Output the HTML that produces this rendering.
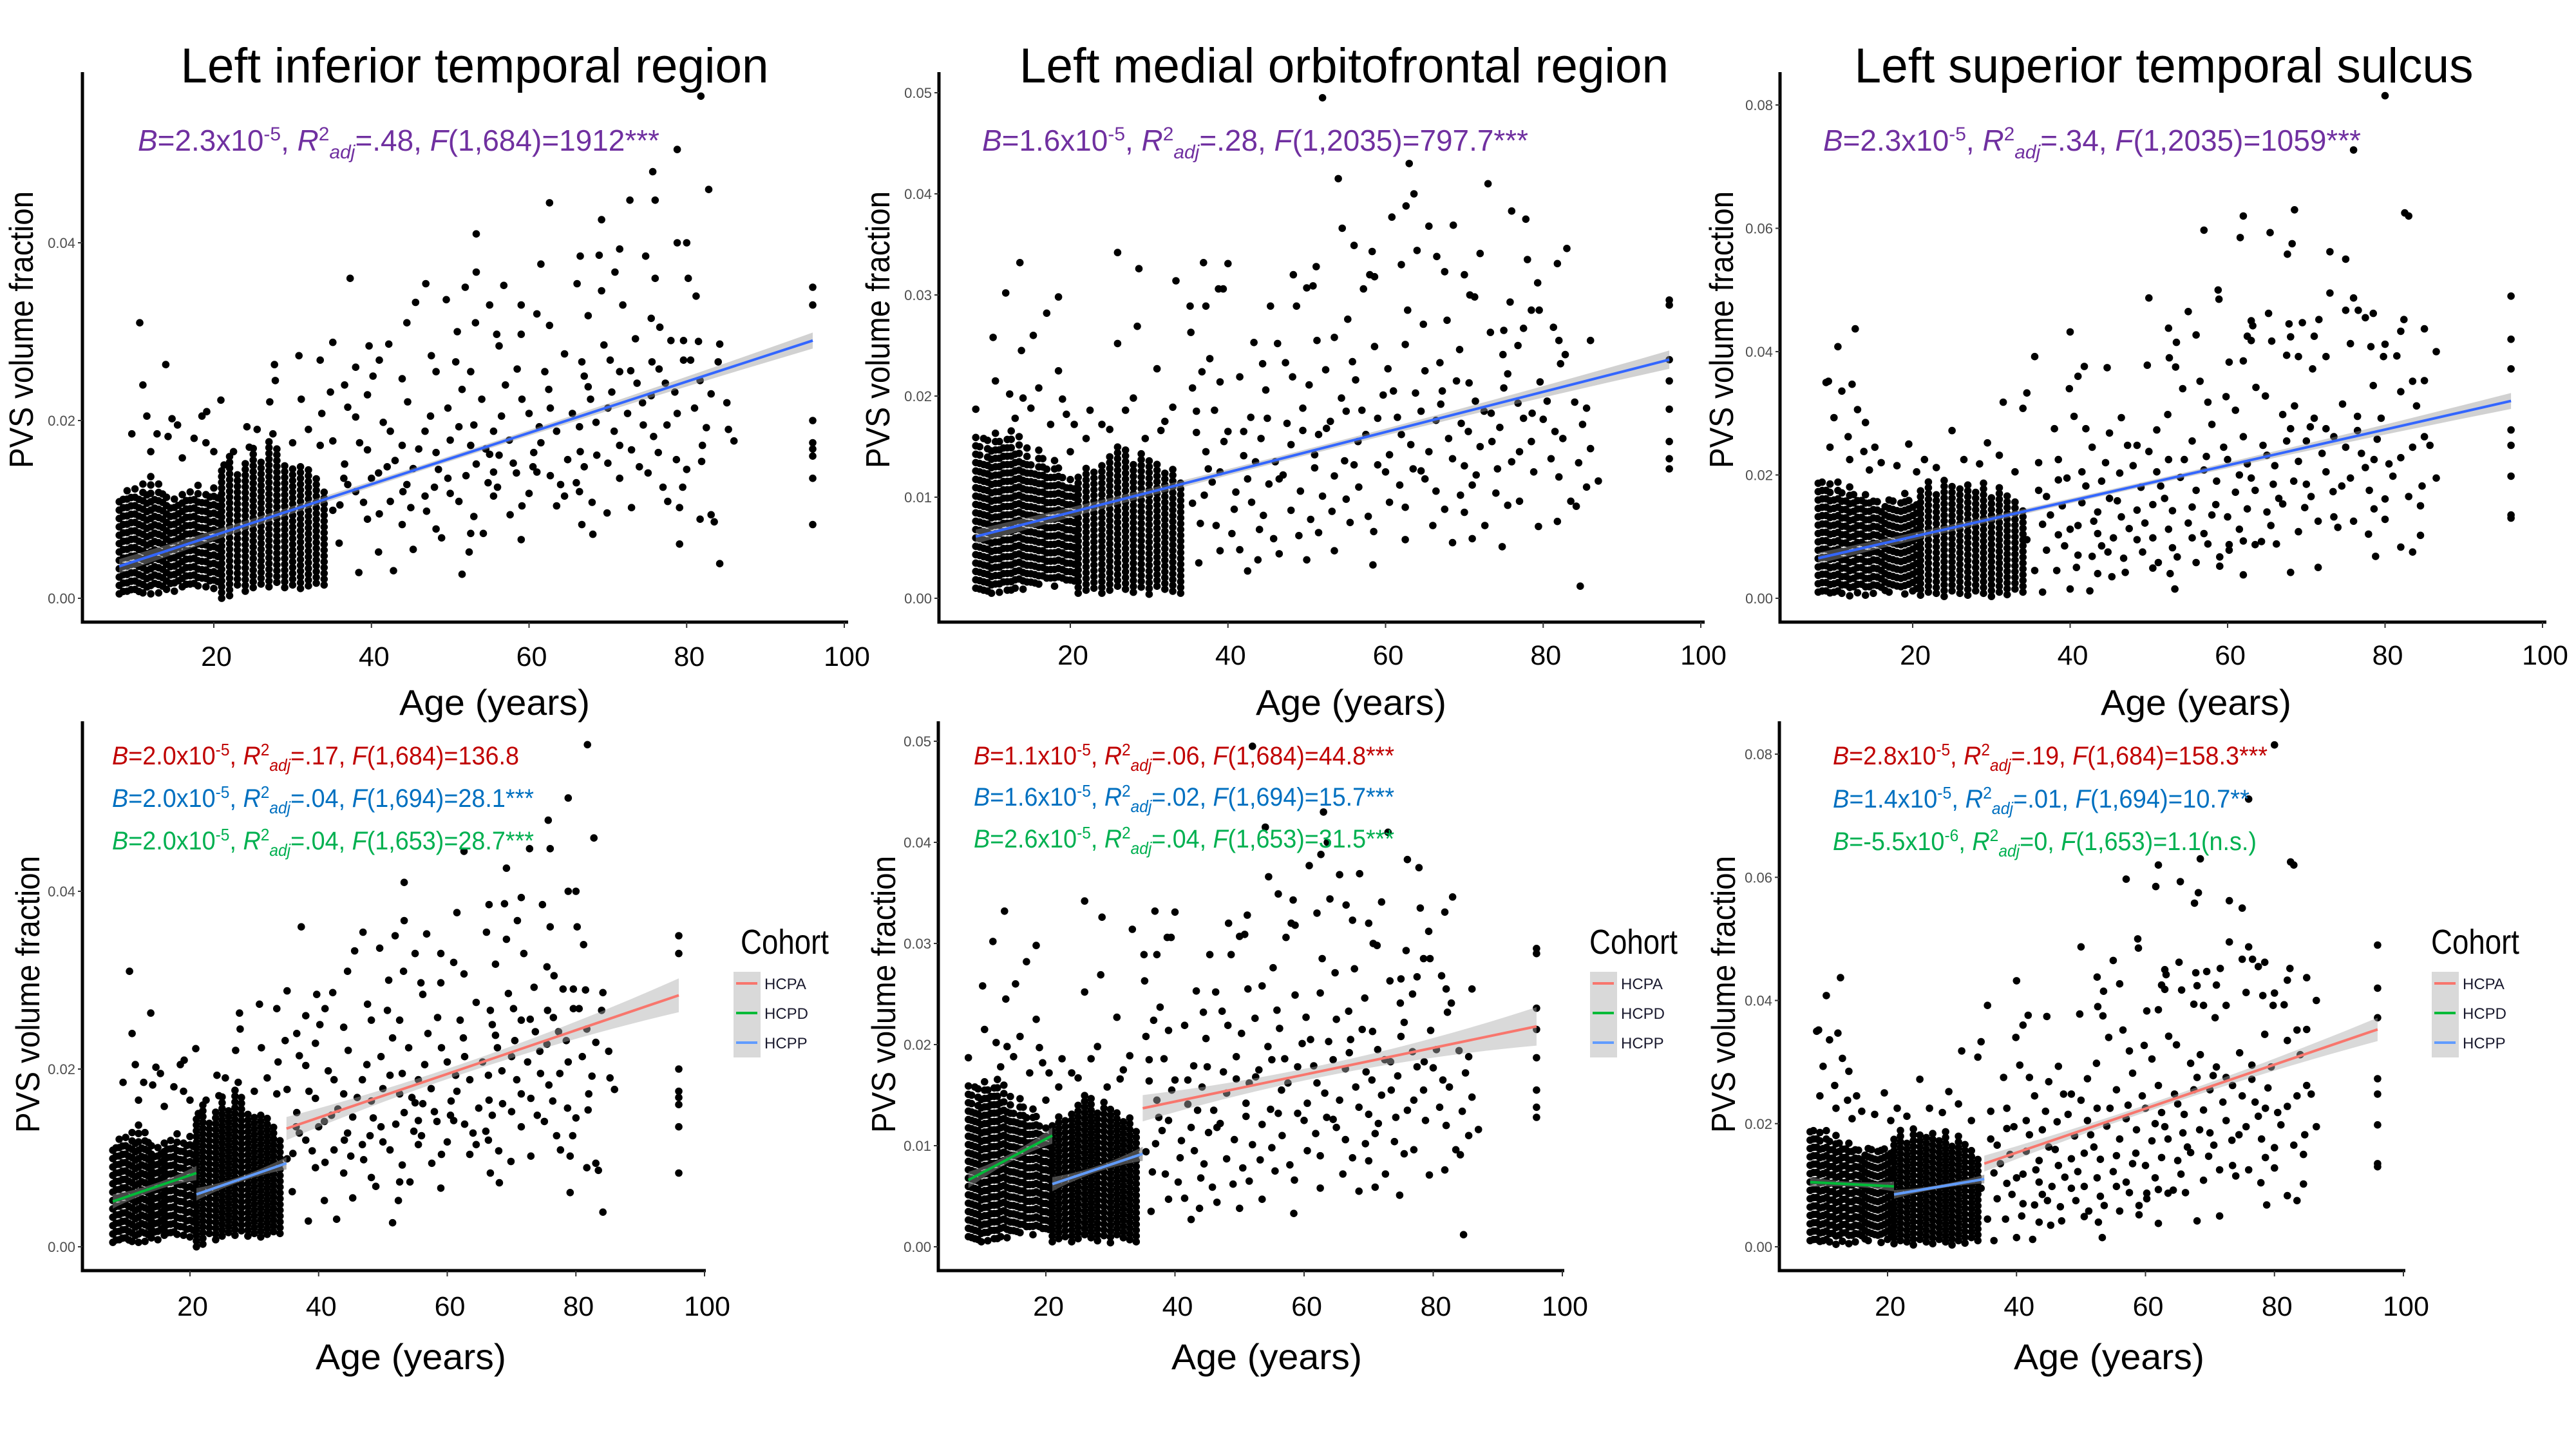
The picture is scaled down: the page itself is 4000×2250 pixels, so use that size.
<!DOCTYPE html>
<html><head><meta charset="utf-8"><style>
html,body{margin:0;padding:0;background:#fff;}
svg{display:block;font-family:"Liberation Sans",Arial,sans-serif;}
</style></head><body>
<svg id="fig" width="4000" height="2250" viewBox="0 0 4000 2250" xmlns="http://www.w3.org/2000/svg">
<rect width="4000" height="2250" fill="#fff"/>
<g id="marks"></g>
<text x="737" y="128" font-size="76" text-anchor="middle" textLength="913" lengthAdjust="spacingAndGlyphs">Left inferior temporal region</text>
<text x="2087" y="128" font-size="76" text-anchor="middle" textLength="1008" lengthAdjust="spacingAndGlyphs">Left medial orbitofrontal region</text>
<text x="3360" y="128" font-size="76" text-anchor="middle" textLength="961" lengthAdjust="spacingAndGlyphs">Left superior temporal sulcus</text>
<text x="214" y="234" font-size="46" fill="#7030a0" textLength="810" lengthAdjust="spacingAndGlyphs"><tspan font-style="italic">B</tspan>=2.3x10<tspan dy="-16" font-size="30">-5</tspan><tspan dy="16">, </tspan><tspan font-style="italic">R</tspan><tspan dy="-16" font-size="30">2</tspan><tspan dy="28" font-size="30" font-style="italic">adj</tspan><tspan dy="-12">=.48, </tspan><tspan font-style="italic">F</tspan>(1,684)=1912***</text>
<text x="1525" y="234" font-size="46" fill="#7030a0" textLength="848" lengthAdjust="spacingAndGlyphs"><tspan font-style="italic">B</tspan>=1.6x10<tspan dy="-16" font-size="30">-5</tspan><tspan dy="16">, </tspan><tspan font-style="italic">R</tspan><tspan dy="-16" font-size="30">2</tspan><tspan dy="28" font-size="30" font-style="italic">adj</tspan><tspan dy="-12">=.28, </tspan><tspan font-style="italic">F</tspan>(1,2035)=797.7***</text>
<text x="2831" y="234" font-size="46" fill="#7030a0" textLength="835" lengthAdjust="spacingAndGlyphs"><tspan font-style="italic">B</tspan>=2.3x10<tspan dy="-16" font-size="30">-5</tspan><tspan dy="16">, </tspan><tspan font-style="italic">R</tspan><tspan dy="-16" font-size="30">2</tspan><tspan dy="28" font-size="30" font-style="italic">adj</tspan><tspan dy="-12">=.34, </tspan><tspan font-style="italic">F</tspan>(1,2035)=1059***</text>
<text x="174" y="1187" font-size="40" fill="#c00000" textLength="632" lengthAdjust="spacingAndGlyphs"><tspan font-style="italic">B</tspan>=2.0x10<tspan dy="-14" font-size="26">-5</tspan><tspan dy="14">, </tspan><tspan font-style="italic">R</tspan><tspan dy="-14" font-size="26">2</tspan><tspan dy="24" font-size="26" font-style="italic">adj</tspan><tspan dy="-10">=.17, </tspan><tspan font-style="italic">F</tspan>(1,684)=136.8</text>
<text x="174" y="1253" font-size="40" fill="#0070c0" textLength="655" lengthAdjust="spacingAndGlyphs"><tspan font-style="italic">B</tspan>=2.0x10<tspan dy="-14" font-size="26">-5</tspan><tspan dy="14">, </tspan><tspan font-style="italic">R</tspan><tspan dy="-14" font-size="26">2</tspan><tspan dy="24" font-size="26" font-style="italic">adj</tspan><tspan dy="-10">=.04, </tspan><tspan font-style="italic">F</tspan>(1,694)=28.1***</text>
<text x="174" y="1319" font-size="40" fill="#00b050" textLength="655" lengthAdjust="spacingAndGlyphs"><tspan font-style="italic">B</tspan>=2.0x10<tspan dy="-14" font-size="26">-5</tspan><tspan dy="14">, </tspan><tspan font-style="italic">R</tspan><tspan dy="-14" font-size="26">2</tspan><tspan dy="24" font-size="26" font-style="italic">adj</tspan><tspan dy="-10">=.04, </tspan><tspan font-style="italic">F</tspan>(1,653)=28.7***</text>
<text x="1512" y="1187" font-size="40" fill="#c00000" textLength="653" lengthAdjust="spacingAndGlyphs"><tspan font-style="italic">B</tspan>=1.1x10<tspan dy="-14" font-size="26">-5</tspan><tspan dy="14">, </tspan><tspan font-style="italic">R</tspan><tspan dy="-14" font-size="26">2</tspan><tspan dy="24" font-size="26" font-style="italic">adj</tspan><tspan dy="-10">=.06, </tspan><tspan font-style="italic">F</tspan>(1,684)=44.8***</text>
<text x="1512" y="1251" font-size="40" fill="#0070c0" textLength="653" lengthAdjust="spacingAndGlyphs"><tspan font-style="italic">B</tspan>=1.6x10<tspan dy="-14" font-size="26">-5</tspan><tspan dy="14">, </tspan><tspan font-style="italic">R</tspan><tspan dy="-14" font-size="26">2</tspan><tspan dy="24" font-size="26" font-style="italic">adj</tspan><tspan dy="-10">=.02, </tspan><tspan font-style="italic">F</tspan>(1,694)=15.7***</text>
<text x="1512" y="1316" font-size="40" fill="#00b050" textLength="653" lengthAdjust="spacingAndGlyphs"><tspan font-style="italic">B</tspan>=2.6x10<tspan dy="-14" font-size="26">-5</tspan><tspan dy="14">, </tspan><tspan font-style="italic">R</tspan><tspan dy="-14" font-size="26">2</tspan><tspan dy="24" font-size="26" font-style="italic">adj</tspan><tspan dy="-10">=.04, </tspan><tspan font-style="italic">F</tspan>(1,653)=31.5***</text>
<text x="2846" y="1187" font-size="40" fill="#c00000" textLength="675" lengthAdjust="spacingAndGlyphs"><tspan font-style="italic">B</tspan>=2.8x10<tspan dy="-14" font-size="26">-5</tspan><tspan dy="14">, </tspan><tspan font-style="italic">R</tspan><tspan dy="-14" font-size="26">2</tspan><tspan dy="24" font-size="26" font-style="italic">adj</tspan><tspan dy="-10">=.19, </tspan><tspan font-style="italic">F</tspan>(1,684)=158.3***</text>
<text x="2846" y="1254" font-size="40" fill="#0070c0" textLength="647" lengthAdjust="spacingAndGlyphs"><tspan font-style="italic">B</tspan>=1.4x10<tspan dy="-14" font-size="26">-5</tspan><tspan dy="14">, </tspan><tspan font-style="italic">R</tspan><tspan dy="-14" font-size="26">2</tspan><tspan dy="24" font-size="26" font-style="italic">adj</tspan><tspan dy="-10">=.01, </tspan><tspan font-style="italic">F</tspan>(1,694)=10.7**</text>
<text x="2846" y="1320" font-size="40" fill="#00b050" textLength="658" lengthAdjust="spacingAndGlyphs"><tspan font-style="italic">B</tspan>=-5.5x10<tspan dy="-14" font-size="26">-6</tspan><tspan dy="14">, </tspan><tspan font-style="italic">R</tspan><tspan dy="-14" font-size="26">2</tspan><tspan dy="24" font-size="26" font-style="italic">adj</tspan><tspan dy="-10">=0, </tspan><tspan font-style="italic">F</tspan>(1,653)=1.1(n.s.)</text>
<g>
 <text x="1150" y="1481" font-size="54" textLength="137" lengthAdjust="spacingAndGlyphs">Cohort</text>
 <rect x="1139" y="1509" width="42" height="133" fill="#d9d9d9"/>
 <line x1="1143" x2="1176" y1="1527" y2="1527" stroke="#f8766d" stroke-width="4"/>
 <line x1="1143" x2="1176" y1="1573" y2="1573" stroke="#00ba38" stroke-width="4"/>
 <line x1="1143" x2="1176" y1="1619" y2="1619" stroke="#619cff" stroke-width="4"/>
 <text x="1187" y="1536" font-size="24" fill="#1a1a2e">HCPA</text>
 <text x="1187" y="1582" font-size="24" fill="#1a1a2e">HCPD</text>
 <text x="1187" y="1628" font-size="24" fill="#1a1a2e">HCPP</text>
</g>
<g transform="translate(1330,0)">
 <text x="1138" y="1481" font-size="54" textLength="137" lengthAdjust="spacingAndGlyphs">Cohort</text>
 <rect x="1139" y="1509" width="42" height="133" fill="#d9d9d9"/>
 <line x1="1143" x2="1176" y1="1527" y2="1527" stroke="#f8766d" stroke-width="4"/>
 <line x1="1143" x2="1176" y1="1573" y2="1573" stroke="#00ba38" stroke-width="4"/>
 <line x1="1143" x2="1176" y1="1619" y2="1619" stroke="#619cff" stroke-width="4"/>
 <text x="1187" y="1536" font-size="24" fill="#1a1a2e">HCPA</text>
 <text x="1187" y="1582" font-size="24" fill="#1a1a2e">HCPD</text>
 <text x="1187" y="1628" font-size="24" fill="#1a1a2e">HCPP</text>
</g>
<g transform="translate(2637,0)">
 <text x="1138" y="1481" font-size="54" textLength="137" lengthAdjust="spacingAndGlyphs">Cohort</text>
 <rect x="1139" y="1509" width="42" height="133" fill="#d9d9d9"/>
 <line x1="1143" x2="1176" y1="1527" y2="1527" stroke="#f8766d" stroke-width="4"/>
 <line x1="1143" x2="1176" y1="1573" y2="1573" stroke="#00ba38" stroke-width="4"/>
 <line x1="1143" x2="1176" y1="1619" y2="1619" stroke="#619cff" stroke-width="4"/>
 <text x="1187" y="1536" font-size="24" fill="#1a1a2e">HCPA</text>
 <text x="1187" y="1582" font-size="24" fill="#1a1a2e">HCPD</text>
 <text x="1187" y="1628" font-size="24" fill="#1a1a2e">HCPP</text>
</g>
</svg>
<script>
const xTicks = [20, 40, 60, 80, 100];
const litYTicks = [0, 0.02, 0.04];
const mofYTicks = [0, 0.01, 0.02, 0.03, 0.04, 0.05];
const stsYTicks = [0, 0.02, 0.04, 0.06, 0.08];
const fitAges = [8, 96];
const hcpdAges = [8, 21];
const hcppAges = [21, 35];
const hcpaAges = [35, 96];
const denseHcpdAges = [8,8.5,9,9.5,10,10.5,11,11.5,12,12.5,13,13.5,14,14.5,15,15.5,16,16.5,17,17.5,18,18.5,19,19.5,20,20.5];
const denseHcppAges = [21,22,23,24,25,26,27,28,29,30,31,32,33,34];

const litFit = [0.0036, 0.029];
const litFitCI = [0.0008, 0.0003, 0.0009];
const litHCPD = [0.0051, 0.0083];
const litHCPP = [0.0059, 0.0094];
const litHCPA = [0.0133, 0.0283];
const litHcpdLo = [0.0005,0.0003,0.0008,0.0005,0.001,0.0003,0.0006,0.0008,0.0005,0.0012,0.0006,0.0009,0.001,0.0012,0.0008,0.0015,0.0013,0.0011,0.0016,0.0012,0.0014,0.0018,0.0013,0.0015,0.0011,0.0014];
const litHcpdHi = [0.011,0.012,0.013,0.012,0.013,0.012,0.013,0.012,0.014,0.012,0.013,0.012,0.012,0.011,0.012,0.011,0.012,0.011,0.012,0.012,0.013,0.011,0.012,0.012,0.013,0.012];
const litHcppLo = [0.0,0.0003,0.0015,0.0008,0.0012,0.0016,0.0013,0.0018,0.0012,0.0015,0.0011,0.0014,0.0017,0.0015];
const litHcppHi = [0.0145,0.016,0.0145,0.0155,0.017,0.0158,0.018,0.017,0.0155,0.015,0.0148,0.0145,0.014,0.0125];
const litScatter = [[81.8,0.0565],[78.8,0.0505],[75.7,0.048],[82.8,0.046],[62.6,0.0445],[72.8,0.0448],[76,0.0448],[69.2,0.0426],[53.3,0.041],[78.8,0.040],[80,0.040],[71.5,0.0393],[66.5,0.0385],[68.9,0.0386],[74.8,0.0385],[61.5,0.0376],[53.3,0.0367],[37.3,0.036],[70.9,0.0367],[76,0.036],[80.2,0.036],[46.9,0.0354],[51.9,0.035],[56.8,0.0352],[66.1,0.0354],[69.2,0.0346],[81.2,0.034],[45.6,0.0333],[49.5,0.0336],[55,0.033],[59,0.033],[67.5,0.0318],[71.9,0.033],[44.5,0.031],[53.2,0.031],[61,0.032],[62.6,0.0307],[75.5,0.0315],[76.6,0.0305],[78,0.029],[79.6,0.029],[81.5,0.0289],[84.2,0.0286],[35.1,0.0288],[39.7,0.0284],[42.2,0.0286],[50.9,0.030],[55.9,0.0297],[59,0.0297],[30.8,0.0273],[27.7,0.0263],[33.5,0.0268],[38,0.026],[41,0.0268],[47.6,0.0273],[50.7,0.0266],[56.2,0.0284],[66.7,0.0266],[70.3,0.0268],[75.6,0.0266],[79.6,0.0268],[84,0.0266],[72.9,0.0256],[13.9,0.0263],[10.6,0.031],[40.2,0.025],[36.6,0.024],[43.9,0.0247],[48.2,0.0255],[52.6,0.0255],[57,0.024],[62,0.0255],[67,0.025],[71.5,0.0255],[73.7,0.0242],[77.3,0.0242],[81.7,0.0245],[83.1,0.023],[85.1,0.022],[86,0.0177],[85.3,0.019],[11,0.024],[27.8,0.0245],[31.1,0.0224],[20.9,0.0223],[19.1,0.021],[14.7,0.0202],[34.8,0.0232],[39.5,0.0229],[44.6,0.0221],[49.7,0.0214],[54,0.0224],[59.1,0.0224],[62.7,0.0214],[67.8,0.0224],[70,0.0214],[74.4,0.022],[78.8,0.0208],[81,0.0214],[38,0.0204],[42.4,0.0188],[46.8,0.0188],[51.1,0.0193],[55.5,0.0188],[61.3,0.0193],[66.4,0.0193],[70.8,0.0188],[75.8,0.0182],[82,0.0172],[76.4,0.0164],[33.7,0.0208],[27.1,0.0221],[24.2,0.0193],[35.1,0.0177],[39.5,0.0167],[43.9,0.0172],[48.2,0.0164],[52.6,0.0172],[56.2,0.0161],[60.6,0.0164],[64.9,0.0156],[68.6,0.0161],[73,0.0167],[78.7,0.0156],[81.9,0.0154],[36.6,0.0151],[40.9,0.0141],[45.3,0.0146],[49.7,0.0135],[53.3,0.0151],[54.8,0.013],[58.4,0.0141],[62.7,0.0138],[66,0.013],[71.5,0.0135],[75.1,0.0141],[79.5,0.0125],[38,0.012],[42.4,0.0109],[46.8,0.0115],[51.1,0.0109],[55.5,0.0115],[59.1,0.0104],[63.5,0.0104],[66.4,0.012],[73,0.0102],[77.6,0.0109],[79.1,0.0102],[35.1,0.0099],[39.5,0.0089],[43.9,0.0083],[48.2,0.0078],[52.6,0.0073],[57.6,0.0094],[66.7,0.0083],[69.9,0.0096],[83.1,0.0094],[83.5,0.0086],[81.7,0.0089],[35.9,0.0062],[40.9,0.0052],[45.3,0.0055],[48.9,0.0068],[54.2,0.0073],[59,0.0066],[68.1,0.0072],[79.1,0.0061],[38.4,0.0029],[42.8,0.0031],[52.4,0.0052],[51.5,0.0027],[84.2,0.0039],[96,0.035],[96,0.033],[96,0.020],[96,0.0175],[96,0.0168],[96,0.016],[96,0.0135],[96,0.0083],[9.6,0.0185],[11.5,0.0205],[12.8,0.0185],[14.2,0.0182],[15.4,0.0195],[17.5,0.018],[18.5,0.0205],[19,0.0175],[21.3,0.015],[22.5,0.0165],[24.5,0.017],[25.5,0.019],[27.5,0.0185],[30,0.0175],[32,0.019],[33.5,0.0172],[12,0.0165],[16,0.0158],[20,0.0165],[36,0.0105],[37,0.0128],[41,0.0095],[44,0.012],[47,0.0098],[50,0.0118],[53,0.0092],[56,0.0125],[60,0.0118],[64,0.0128],[68,0.0108]];
const litExtra = [[37,0.0215],[38.5,0.0175],[40,0.0135],[41.5,0.0198],[43,0.0155],[44.5,0.0128],[46,0.0168],[47.5,0.0205],[48.5,0.0145],[50,0.0178],[51.5,0.0235],[53,0.0195],[54.5,0.0168],[55.5,0.0142],[56.5,0.0205],[57.5,0.0178],[58.5,0.0258],[60,0.0208],[60.5,0.0148],[61.5,0.0175],[62.5,0.0235],[63.5,0.0188],[64.5,0.0275],[65.5,0.0208],[66.5,0.0165],[67.5,0.0238],[68.5,0.0198],[69.5,0.0285],[70.5,0.0232],[71.5,0.0172],[72.5,0.0208],[73.5,0.0292],[74.5,0.0195],[75.5,0.0228],[76.5,0.0258],[77.5,0.0195],[78.5,0.0232],[80.5,0.0268],[82.5,0.0192],[36.5,0.0135],[39,0.0108],[42,0.0148],[45,0.0102],[48,0.0125],[52,0.0138],[55,0.0162],[58,0.0152],[61,0.0142],[64.5,0.0115],[67,0.0148],[70,0.0152],[74,0.0148],[77,0.0125],[80,0.0145]];

const mofFit = [0.0061, 0.0236];
const mofFitCI = [0.0007, 0.0003, 0.0009];
const mofHCPD = [0.0066, 0.011];
const mofHCPP = [0.0062, 0.0092];
const mofHCPA = [0.0137, 0.0218];
const mofHcpdLo = [0.001,0.0005,0.0008,0.0003,0.0005,0.001,0.0006,0.0012,0.0008,0.0004,0.001,0.0015,0.0009,0.0012,0.0016,0.0011,0.0014,0.0018,0.002,0.0016,0.0012,0.0017,0.002,0.0014,0.0018,0.0013];
const mofHcpdHi = [0.016,0.015,0.014,0.016,0.015,0.017,0.016,0.015,0.016,0.017,0.015,0.016,0.014,0.015,0.014,0.013,0.015,0.014,0.013,0.012,0.014,0.013,0.012,0.011,0.012,0.011];
const mofHcppLo = [0.0005,0.0008,0.001,0.0005,0.0008,0.0012,0.0009,0.0006,0.0011,0.0004,0.0012,0.0009,0.0007,0.0005];
const mofHcppHi = [0.012,0.013,0.0125,0.0135,0.014,0.0155,0.015,0.0135,0.0145,0.014,0.0135,0.0125,0.013,0.0115];
const mofScatter = [[52,0.0495],[63,0.043],[54,0.0415],[73,0.041],[63.6,0.040],[62.6,0.0388],[76,0.0383],[60.8,0.0377],[77.8,0.0375],[54.5,0.0366],[65.5,0.0368],[68.6,0.0369],[56,0.0349],[58.3,0.0343],[72,0.0341],[83,0.0346],[64,0.0344],[58,0.032],[58.6,0.0318],[62,0.033],[66.5,0.0338],[67.5,0.0323],[70,0.032],[79.3,0.0312],[81.8,0.0331],[78,0.0335],[13.6,0.0332],[11.8,0.0302],[18.5,0.0298],[17,0.0282],[26,0.0342],[28.7,0.0326],[36.9,0.0332],[40,0.0331],[33.4,0.0314],[38.8,0.0306],[39.4,0.0306],[48.3,0.032],[50,0.0307],[50.8,0.0309],[51.2,0.0328],[57.2,0.0306],[62.8,0.0285],[70.7,0.030],[71.3,0.0298],[75.8,0.0293],[78.5,0.0285],[79.5,0.0285],[35.2,0.0289],[37.2,0.0289],[45.4,0.0289],[48.7,0.0289],[55.2,0.0276],[64.8,0.0271],[67.8,0.0275],[73.3,0.0263],[75,0.0265],[77.5,0.0267],[81.3,0.0268],[86,0.0255],[28.5,0.0269],[35.3,0.0263],[10.2,0.0258],[15.3,0.026],[13.8,0.0245],[26,0.0252],[37.7,0.0237],[43.3,0.0253],[46.3,0.0252],[51.3,0.0255],[53.5,0.0258],[58.6,0.0249],[62.5,0.0251],[69.4,0.0246],[76.8,0.025],[82,0.0255],[82.8,0.0241],[44.4,0.0232],[47.3,0.0233],[55.8,0.0234],[60.3,0.0227],[66.9,0.0233],[74.9,0.0241],[82.2,0.0232],[16,0.0208],[18.5,0.0225],[31,0.0227],[36.7,0.0224],[41.5,0.0219],[48.2,0.0219],[52.4,0.0226],[56.2,0.0216],[65,0.0225],[70.6,0.0213],[75.5,0.0222],[79.6,0.0214],[84,0.0194],[14,0.0198],[19,0.0197],[28,0.0198],[35.5,0.0208],[39,0.0214],[44.8,0.0206],[50.3,0.0211],[54.4,0.0198],[59.7,0.0201],[63.8,0.0203],[67.2,0.0205],[71.4,0.0195],[73.4,0.0183],[76.8,0.0193],[78.6,0.0183],[85.5,0.0188],[85,0.0172],[22.5,0.0186],[27,0.0186],[33,0.0189],[38.3,0.0186],[42.9,0.0179],[47.5,0.0173],[53,0.0175],[57,0.0186],[61.5,0.0179],[66.4,0.0176],[69.6,0.0173],[74.5,0.0169],[80,0.0177],[82.5,0.0158],[86,0.0148],[87,0.0116],[20.5,0.0172],[25,0.0167],[31.5,0.0166],[36,0.0164],[40,0.0165],[44.2,0.0158],[49.5,0.0166],[51.5,0.0162],[56.5,0.0155],[63.2,0.0152],[68,0.0158],[72,0.015],[77,0.0145],[81,0.0138],[84.5,0.0134],[37.2,0.0145],[42,0.0141],[46,0.0135],[51,0.0129],[54.8,0.0136],[60,0.0125],[64.5,0.0126],[70,0.0131],[74.2,0.0128],[78.8,0.0125],[82,0.012],[85.5,0.011],[38,0.0115],[42.5,0.0118],[45.2,0.0113],[49.2,0.0106],[52,0.0101],[56.6,0.011],[61.8,0.0112],[66.4,0.0106],[69.5,0.0102],[74,0.0104],[77,0.0096],[83.5,0.0096],[35.5,0.0094],[40.8,0.0088],[44.5,0.0082],[48,0.0087],[53.2,0.0086],[57.8,0.0081],[62.5,0.009],[67.5,0.0088],[72.6,0.0072],[79.4,0.0071],[81.8,0.0076],[84.2,0.0091],[36.5,0.0074],[40.5,0.0064],[45.8,0.0059],[49,0.0062],[51.5,0.0065],[58.5,0.0066],[62.5,0.0058],[68.5,0.0055],[71,0.0059],[74.8,0.0051],[39,0.0047],[41.5,0.0048],[43.8,0.0038],[46.5,0.0044],[50,0.0038],[53.5,0.0047],[58.4,0.0033],[42.5,0.0027],[36.3,0.0035],[84.7,0.0012],[96,0.0295],[96,0.029],[96,0.0236],[96,0.0215],[96,0.0187],[96,0.0155],[96,0.0138],[96,0.0128],[8,0.0187],[9,0.0158],[10.5,0.0215],[12.3,0.0202],[20,0.0145],[37,0.0102],[39,0.0125],[43,0.0095],[47,0.0122],[55,0.0098],[59,0.0132],[65,0.0118],[71,0.0112]];
const mofExtra = [[36,0.0185],[37.5,0.0128],[39.5,0.0155],[41,0.0105],[42,0.0165],[43.5,0.0135],[45,0.0178],[46.5,0.0118],[48,0.0152],[49.5,0.0188],[51,0.0142],[52.5,0.0168],[53.5,0.0121],[55,0.0185],[56,0.0132],[57.5,0.0162],[59,0.0178],[60.5,0.0142],[61,0.0205],[62,0.0162],[63.5,0.0128],[64.5,0.0185],[65.5,0.0145],[67,0.0192],[68.5,0.0138],[69,0.0215],[70.5,0.0165],[71.5,0.0122],[72.5,0.0185],[73.5,0.0155],[75,0.0208],[76,0.0135],[77.5,0.0178],[78.5,0.0155],[80.5,0.0195],[81.5,0.0165],[38.5,0.0072],[44,0.0068],[50.5,0.0078],[55.5,0.0075],[60.5,0.0095],[66,0.0072],[70,0.0085],[75.5,0.0092],[13,0.0178],[15,0.0188],[17.5,0.0172],[19.5,0.0182],[22,0.0158],[24,0.0172],[29.5,0.0158],[32,0.0175]];

const stsFit = [0.0065, 0.032];
const stsFitCI = [0.0009, 0.0004, 0.0013];
const stsHCPD = [0.0105, 0.0098];
const stsHCPP = [0.0085, 0.011];
const stsHCPA = [0.0135, 0.0353];
const stsHcpdLo = [0.001,0.0005,0.0012,0.0002,0.001,0.0005,0.0008,0.0015,0.0004,0.0012,0.0009,0.0016,0.0005,0.0012,0.0008,0.0014,0.0018,0.0006,0.001,0.0015,0.002,0.0012,0.0007,0.0016,0.0012,0.0009];
const stsHcpdHi = [0.019,0.02,0.018,0.019,0.017,0.02,0.018,0.017,0.019,0.018,0.016,0.017,0.018,0.016,0.017,0.016,0.015,0.016,0.017,0.016,0.015,0.016,0.017,0.016,0.015,0.016];
const stsHcppLo = [0.0005,0.001,0.0008,0.0003,0.0012,0.0008,0.0005,0.0012,0.0008,0.0003,0.001,0.0006,0.0015,0.001];
const stsHcppHi = [0.018,0.019,0.017,0.02,0.019,0.018,0.019,0.018,0.019,0.017,0.018,0.017,0.016,0.015];
const stsScatter = [[80,0.0815],[76,0.0727],[82.5,0.0625],[83,0.062],[68.5,0.063],[62,0.062],[57,0.0597],[61.6,0.0585],[65.4,0.0593],[68.2,0.0575],[67.6,0.0558],[73,0.0562],[75,0.055],[58.8,0.05],[58.9,0.0485],[50,0.0487],[73,0.0495],[76,0.0487],[75,0.0467],[76.6,0.0467],[77.5,0.0455],[78.5,0.0462],[82.4,0.0452],[55,0.0465],[63,0.045],[63.2,0.0442],[65.2,0.0462],[67.8,0.0445],[69.5,0.0447],[71.6,0.0452],[82,0.0433],[85,0.0437],[40,0.0432],[52.5,0.0438],[56,0.0427],[53.5,0.0415],[62.5,0.0425],[63,0.0418],[65.6,0.0417],[68,0.0424],[71,0.0425],[75.6,0.0413],[78.2,0.0408],[80,0.0412],[86.5,0.04],[12.7,0.0437],[10.5,0.0408],[35.5,0.0392],[41.8,0.0376],[44.7,0.0374],[49.8,0.0378],[52.6,0.039],[53.4,0.0375],[60.2,0.0383],[62,0.0385],[67.5,0.0394],[69,0.0392],[70.8,0.0372],[72.5,0.0392],[79.8,0.0392],[81.5,0.0393],[83.5,0.0352],[85,0.0353],[9,0.035],[9.3,0.0352],[12.3,0.0347],[11,0.0336],[14,0.0285],[13,0.0306],[10,0.0293],[9.5,0.0245],[11.8,0.0262],[13.8,0.0238],[15.2,0.0245],[16,0.022],[19.5,0.025],[21.5,0.0225],[25,0.0272],[29.5,0.0252],[31.5,0.0318],[34.5,0.0333],[34,0.0308],[39.9,0.034],[41,0.036],[38,0.0275],[40.5,0.0295],[42,0.0275],[46.5,0.0293],[45,0.0268],[48.5,0.0248],[51,0.0273],[52.4,0.0298],[54.3,0.034],[56.5,0.0352],[57.5,0.0318],[58,0.0282],[59.8,0.0327],[61,0.0305],[63.6,0.0342],[64.8,0.0328],[67,0.0298],[68.5,0.0312],[70.5,0.0278],[72.5,0.0275],[74.6,0.0315],[76.5,0.0295],[78.5,0.0345],[79.5,0.0292],[82,0.0335],[84,0.0312],[85,0.0262],[85.7,0.0248],[86.5,0.0195],[36,0.022],[38.5,0.0225],[42.8,0.0245],[44.5,0.022],[47.3,0.0248],[50,0.0238],[52.5,0.0225],[55.5,0.0255],[57.3,0.023],[60,0.0225],[62.5,0.0218],[65,0.0232],[67.5,0.0255],[70,0.0255],[72,0.0235],[75,0.0245],[77,0.0235],[78.6,0.0225],[80.5,0.0218],[82,0.0228],[84.7,0.0182],[39.6,0.0195],[41.5,0.0205],[44,0.019],[46.3,0.0203],[49,0.018],[51.5,0.0182],[54,0.0196],[56,0.0175],[58.6,0.019],[61.5,0.02],[63.5,0.0175],[65.8,0.0185],[68.4,0.019],[70.6,0.0165],[73.4,0.0173],[75.6,0.0195],[78,0.0175],[80,0.0161],[83,0.0165],[84.5,0.015],[37,0.0165],[39,0.015],[41.5,0.0155],[43.5,0.014],[46,0.0158],[48.5,0.0143],[50.5,0.0152],[53,0.0142],[55.5,0.0148],[58,0.0135],[60,0.0132],[62.5,0.0145],[65,0.014],[67,0.0153],[69.8,0.0147],[71.5,0.0125],[73.5,0.0132],[76,0.0125],[78.6,0.0145],[80,0.0128],[84.5,0.0102],[36.5,0.012],[38.5,0.0103],[41,0.0118],[43.5,0.0105],[45.5,0.0098],[47.5,0.0113],[50.5,0.0098],[52.5,0.0112],[55.5,0.0098],[57.5,0.0088],[60.2,0.0087],[62,0.0093],[64.3,0.0092],[66.2,0.0088],[77.9,0.0104],[34.5,0.0095],[37,0.0078],[39.3,0.0085],[41,0.007],[42.8,0.0068],[44.8,0.0075],[46.8,0.0065],[49.2,0.0075],[51.2,0.0058],[53.6,0.0067],[56,0.0058],[59,0.0067],[60.2,0.0078],[63.5,0.0087],[78.8,0.0068],[82,0.0083],[83.5,0.0075],[35.5,0.0045],[38.3,0.0045],[40.8,0.005],[43.5,0.004],[45.3,0.0035],[47,0.0042],[50.5,0.0049],[52.7,0.004],[59,0.0052],[62,0.0038],[68,0.0042],[71.5,0.005],[36.5,0.001],[40,0.0015],[42.5,0.0012],[53.3,0.0015],[96,0.049],[96,0.042],[96,0.0372],[96,0.0273],[96,0.0248],[96,0.0198],[96,0.0135],[96,0.013]];
const stsExtra = [[36,0.0175],[37.5,0.0135],[38.5,0.0192],[40,0.0112],[42,0.0182],[43,0.0125],[45,0.0162],[46.5,0.0132],[48,0.0215],[49.5,0.0122],[51,0.0205],[52,0.0162],[54.5,0.0225],[55,0.0122],[57,0.0208],[58.5,0.0152],[59.5,0.0245],[61,0.0172],[62,0.0262],[63,0.0195],[64.5,0.0248],[66,0.0215],[66.5,0.0162],[68,0.0275],[69,0.0222],[70,0.0185],[71,0.0292],[72.5,0.0205],[73.5,0.0262],[74.5,0.0182],[76.5,0.0272],[77.5,0.0212],[79,0.0258],[81,0.0198],[83.5,0.0245],[44,0.0085],[48.5,0.0095],[53,0.0082],[57,0.0105],[61.5,0.0112],[65.5,0.0118],[69,0.0108],[74,0.0115],[18,0.0215],[20.5,0.0205],[23,0.0212],[26.5,0.0225],[28.5,0.0218],[31,0.0232],[33,0.0205],[12,0.0225],[14.5,0.0208]];

const NS = 'http://www.w3.org/2000/svg';
const root = document.getElementById('marks');
function mk(tag, attrs, parent) {
  const el = document.createElementNS(NS, tag);
  for (const k in attrs) el.setAttribute(k, attrs[k]);
  (parent || root).appendChild(el);
  return el;
}

const panels = [
  {id:'inferior-temporal-overall', ax:128, right:1317, top:112, baseY:966, x20:332, x100:1311, y0:929, ky:13800, yTicks:litYTicks, scatter:litScatter.concat(litExtra), dLo:[litHcpdLo,litHcppLo], dHi:[litHcpdHi,litHcppHi], fit:litFit, ci:litFitCI, cohorts:null, yLabelY:512, xTitleX:768, xLabY:1034, xTitleY:1110, ylabOff:94},
  {id:'medial-orbitofrontal-overall', ax:1458, right:2647, top:112, baseY:966, x20:1662, x100:2641, y0:929, ky:15700, yTicks:mofYTicks, scatter:mofScatter.concat(mofExtra), dLo:[mofHcpdLo,mofHcppLo], dHi:[mofHcpdHi,mofHcppHi], fit:mofFit, ci:mofFitCI, cohorts:null, yLabelY:512, xTitleX:2098, xLabY:1032, xTitleY:1110, ylabOff:94},
  {id:'superior-temporal-sulcus-overall', ax:2764, right:3954, top:112, baseY:966, x20:2970, x100:3948, y0:929, ky:9575, yTicks:stsYTicks, scatter:stsScatter.concat(stsExtra), dLo:[stsHcpdLo,stsHcppLo], dHi:[stsHcpdHi,stsHcppHi], fit:stsFit, ci:stsFitCI, cohorts:null, yLabelY:512, xTitleX:3410, xLabY:1032, xTitleY:1110, ylabOff:90},
  {id:'inferior-temporal-cohort', ax:128, right:1096, top:1120, baseY:1973, x20:295, x100:1094, y0:1936, ky:13800, yTicks:litYTicks, scatter:litScatter.concat(litExtra), dLo:[litHcpdLo,litHcppLo], dHi:[litHcpdHi,litHcppHi], fit:null, cohorts:[litHCPD,litHCPP,litHCPA], yLabelY:1544, xTitleX:638, xLabY:2043, xTitleY:2126, ylabOff:84},
  {id:'medial-orbitofrontal-cohort', ax:1457, right:2429, top:1120, baseY:1973, x20:1624, x100:2426, y0:1936, ky:15700, yTicks:mofYTicks, scatter:mofScatter.concat(mofExtra), dLo:[mofHcpdLo,mofHcppLo], dHi:[mofHcpdHi,mofHcppHi], fit:null, cohorts:[mofHCPD,mofHCPP,mofHCPA], yLabelY:1544, xTitleX:1967, xLabY:2043, xTitleY:2126, ylabOff:84},
  {id:'superior-temporal-sulcus-cohort', ax:2763, right:3735, top:1120, baseY:1973, x20:2931, x100:3732, y0:1936, ky:9562, yTicks:stsYTicks, scatter:stsScatter.concat(stsExtra), dLo:[stsHcpdLo,stsHcppLo], dHi:[stsHcpdHi,stsHcppHi], fit:null, cohorts:[stsHCPD,stsHCPP,stsHCPA], yLabelY:1544, xTitleX:3275, xLabY:2043, xTitleY:2126, ylabOff:86}
];

function band(g, xs, ys, ages, vals, ciEnds, fill, op) {
  const n = 24, up = [], dn = [];
  for (let i = 0; i <= n; i++) {
    const t = i / n;
    const a = ages[0] + (ages[1] - ages[0]) * t;
    const v = vals[0] + (vals[1] - vals[0]) * t;
    const c = ciEnds[0]*(1-t)*(1-2*t) + ciEnds[1]*4*t*(1-t) + ciEnds[2]*t*(2*t-1);
    up.push(xs(a).toFixed(1) + ',' + ys(v + Math.abs(c)).toFixed(1));
    dn.unshift(xs(a).toFixed(1) + ',' + ys(v - Math.abs(c)).toFixed(1));
  }
  const p = mk('polygon', {points: up.concat(dn).join(' '), fill: fill, opacity: op}, g);
  
  
}
function fline(g, xs, ys, ages, vals, color, name) {
  const l = mk('line', {x1: xs(ages[0]), y1: ys(vals[0]), x2: xs(ages[1]), y2: ys(vals[1]), stroke: color, 'stroke-width': 4}, g);
  
  
}

panels.forEach(P => {
  const xs = a => P.x20 + (a - 20) * (P.x100 - P.x20) / 80;
  const ys = v => P.y0 - v * P.ky;
  const g = mk('g', {});
  
  
  const r = 5.8;
  const denseAges = [denseHcpdAges, denseHcppAges];
  const steps = [13, 9];
  for (let k = 0; k < 2; k++) {
    denseAges[k].forEach((a, i) => {
      const lo = P.dLo[k][i], hi = P.dHi[k][i];
      const off = (k === 0 && i % 2) ? 0.5 : 0;
      const step = steps[k] / P.ky;
      for (let v = lo + off * step; v <= hi + 1e-9; v += step) {
        const c = mk('circle', {cx: xs(a).toFixed(1), cy: ys(v).toFixed(1), r: r, fill: '#000'}, g);
        
        
      }
    });
  }
  P.scatter.forEach(p => {
    const c = mk('circle', {cx: xs(p[0]).toFixed(1), cy: ys(p[1]).toFixed(1), r: r, fill: '#000'}, g);
    
    
  });
  if (P.fit) {
    band(g, xs, ys, fitAges, P.fit, P.ci, '#999', 0.45);
    fline(g, xs, ys, fitAges, P.fit, '#3366ff', 'regression-line');
  } else {
    const ageSets = [hcpdAges, hcppAges, hcpaAges];
    const cols = ['#00ba38', '#619cff', '#f8766d'];
    const names = ['hcpd-fit-line', 'hcpp-fit-line', 'hcpa-fit-line'];
    const cis = [[0.0008,0.0004,0.0008],[0.0007,0.0003,0.0007],[0.0013,0.0006,0.0019]];
    for (let k = 0; k < 3; k++) {
      band(g, xs, ys, ageSets[k], P.cohorts[k], cis[k], k === 2 ? '#aaa' : '#777', k === 2 ? 0.45 : 0.6);
      fline(g, xs, ys, ageSets[k], P.cohorts[k], cols[k], names[k]);
    }
  }
  const ya = mk('line', {x1: P.ax, y1: P.top, x2: P.ax, y2: P.baseY + 2.5, stroke: '#000', 'stroke-width': 5}, g);
  
  
  const xa = mk('line', {x1: P.ax - 2.5, y1: P.baseY, x2: P.right, y2: P.baseY, stroke: '#000', 'stroke-width': 5}, g);
  
  
  xTicks.forEach(t => {
    const tk = mk('line', {x1: xs(t), y1: P.baseY, x2: xs(t), y2: P.baseY + 9, stroke: '#333', 'stroke-width': 2}, g);
    
    
    const tl = mk('text', {x: xs(t) + 4, y: P.xLabY, 'font-size': 43, 'text-anchor': 'middle', fill: '#000'}, g);
    
    
    tl.textContent = String(t);
  });
  P.yTicks.forEach(t => {
    const tk = mk('line', {x1: P.ax - 7, y1: ys(t), x2: P.ax, y2: ys(t), stroke: '#333', 'stroke-width': 2}, g);
    
    
    const tl = mk('text', {x: P.ax - 11, y: ys(t) + 8, 'font-size': 22, 'text-anchor': 'end', fill: '#4d4d4d'}, g);
    
    
    tl.textContent = t.toFixed(2);
  });
  const xt = mk('text', {x: P.xTitleX, y: P.xTitleY, 'font-size': 56, 'text-anchor': 'middle', textLength: 296, lengthAdjust: 'spacingAndGlyphs'}, g);
  
  
  xt.textContent = 'Age (years)';
  const lx = P.ax - P.ylabOff + 17;
  const yt = mk('text', {x: lx, y: P.yLabelY, 'font-size': 52, 'text-anchor': 'middle', transform: 'rotate(-90 ' + lx + ' ' + P.yLabelY + ')', textLength: 430, lengthAdjust: 'spacingAndGlyphs'}, g);
  
  
  yt.textContent = 'PVS volume fraction';
});
</script>
</body></html>
